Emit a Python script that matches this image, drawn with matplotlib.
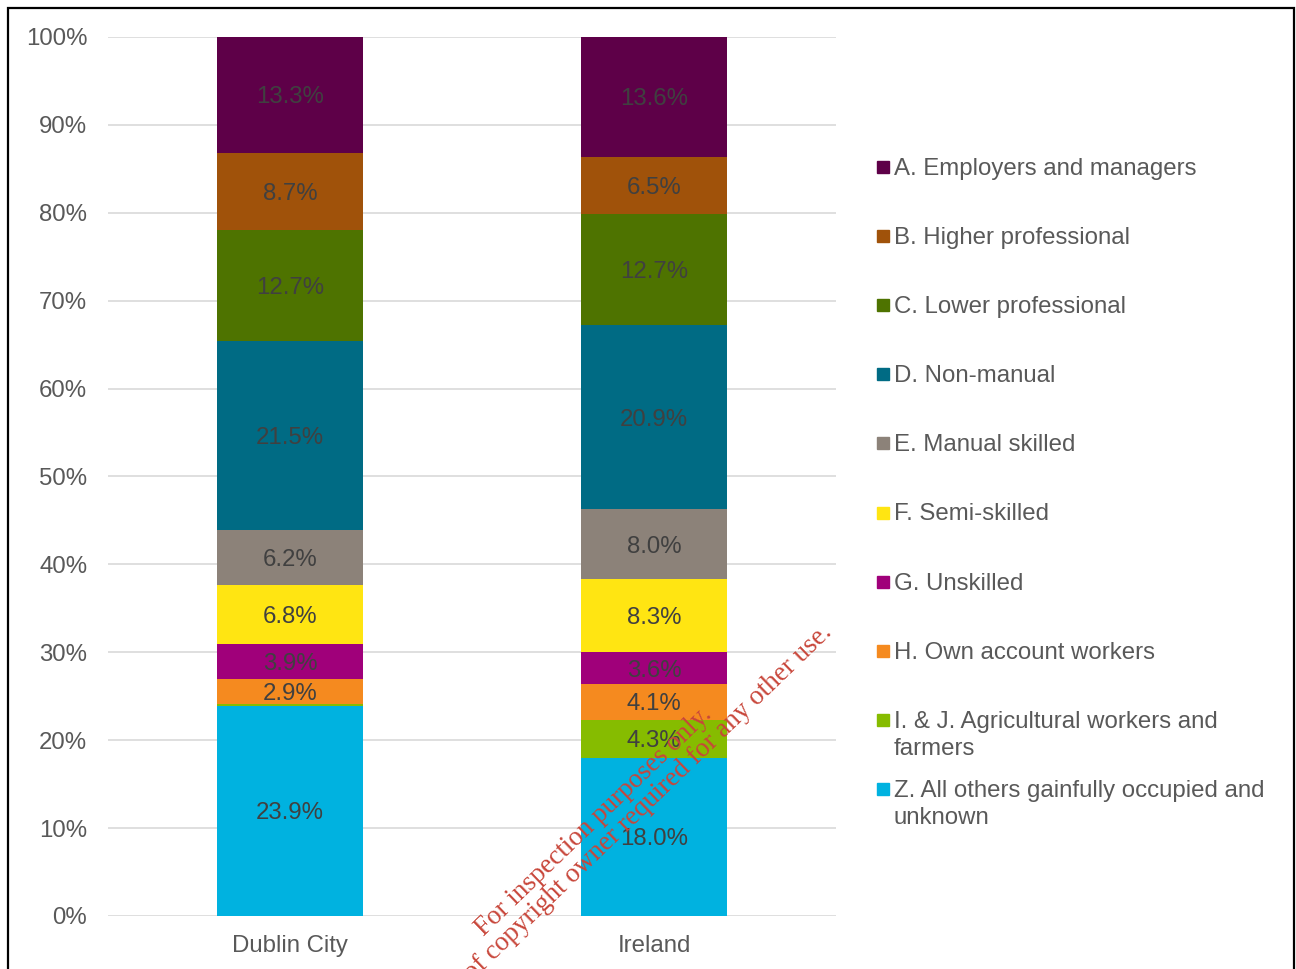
import matplotlib
matplotlib.use("Agg")
import matplotlib.pyplot as plt
from matplotlib.patches import Rectangle
import numpy as np

plt.rcParams['font.family'] = ['Liberation Sans', 'DejaVu Sans']

regions = ["Dublin City", "Ireland"]
groups = [
    "Z. All others gainfully occupied and\nunknown",
    "I. & J. Agricultural workers and\nfarmers",
    "H. Own account workers",
    "G. Unskilled",
    "F. Semi-skilled",
    "E. Manual skilled",
    "D. Non-manual",
    "C. Lower professional",
    "B. Higher professional",
    "A. Employers and managers",
]
colors = ["#00B2E0", "#86BC00", "#F58A1F", "#A0007A", "#FFE512",
          "#8C8279", "#006B84", "#4E7300", "#A0520A", "#5E0048"]

dublin_city = [23.9, 0.2, 2.9, 3.9, 6.8, 6.2, 21.5, 12.7, 8.7, 13.3]
ireland = [18.0, 4.3, 4.1, 3.6, 8.3, 8.0, 20.9, 12.7, 6.5, 13.6]

W, H = 1296, 969
fig = plt.figure(figsize=(W / 100, H / 100), dpi=100)
ax = fig.add_axes([108 / W, 1 - 916 / H, 728 / W, 879 / H])

values = np.array([dublin_city, ireland])
x = np.arange(len(regions))
bottom = np.zeros(len(regions))
for i, (g, c) in enumerate(zip(groups, colors)):
    v = values[:, i]
    ax.bar(x, v, width=0.4, bottom=bottom, color=c, zorder=3, linewidth=0)
    for xi, vi, bi in zip(x, v, bottom):
        if vi >= 1:
            ax.text(xi, bi + vi / 2, f"{vi:.1f}%", ha="center", va="center_baseline",
                    fontsize=17.3, color="#404040", zorder=4)
    bottom += v

ax.set_xlim(-0.5, 1.5)
ax.set_ylim(0, 100)
ax.set_yticks(np.arange(0, 101, 10))
ax.set_yticklabels([f"{t}%" for t in range(0, 101, 10)])
ax.set_xticks(x)
ax.set_xticklabels(regions)
ax.tick_params(axis="both", length=0, labelsize=17.3, labelcolor="#595959")
ax.tick_params(axis="y", pad=15)
ax.tick_params(axis="x", pad=14)
ax.yaxis.grid(True, color="#D9D9D9", linewidth=1.2, zorder=0)
ax.set_axisbelow(True)
for s in ax.spines.values():
    s.set_visible(False)

# legend, top entry first; each text line placed on its own baseline
leg_x0 = 877
line_step = 27
for k, i in enumerate(range(len(groups) - 1, -1, -1)):
    cy = 167 + k * 69.1
    fig.patches.append(Rectangle((leg_x0 / W, 1 - (cy + 6) / H), 12 / W, 12 / H,
                                 transform=fig.transFigure, color=colors[i]))
    for j, line in enumerate(groups[i].split("\n")):
        fig.text(894 / W, 1 - (cy + 8 + j * line_step) / H, line, fontsize=17.3,
                 color="#595959", ha="left", va="baseline")

# outer frame
fig.patches.append(Rectangle((8 / W, -0.05), 1286 / W, 1 - 8 / H + 0.05,
                             transform=fig.transFigure, fill=False,
                             edgecolor="black", linewidth=1.6))

# watermark
wm = dict(family=["Liberation Serif", "DejaVu Serif"], fontsize=19.5, color="#C8463A",
          rotation=44, rotation_mode="anchor", va="baseline", zorder=10)
fig.text(484 / W, 1 - 937 / H, "For inspection purposes only.", ha="left", **wm)
fig.text(833 / W, 1 - 633 / H, "Consent of copyright owner required for any other use.",
         ha="right", **wm)

fig.savefig("out.png", dpi=100)
